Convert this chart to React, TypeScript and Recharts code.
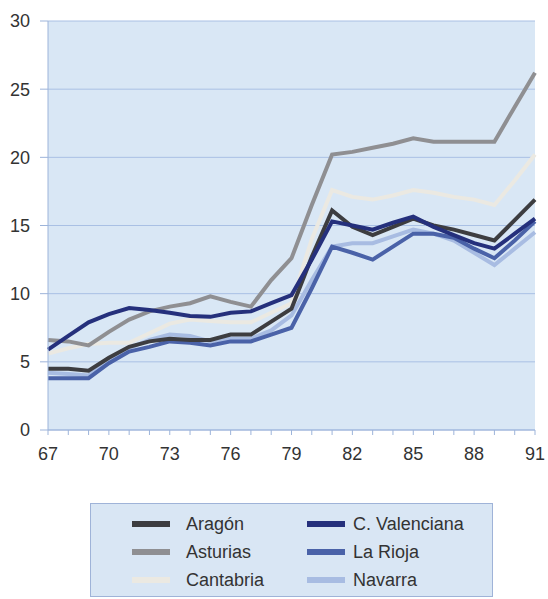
import { LineChart, Line, XAxis, YAxis, CartesianGrid } from 'recharts'

const years = [67, 68, 69, 70, 71, 72, 73, 74, 75, 76, 77, 78, 79, 80, 81, 82, 83, 84, 85, 86, 87, 88, 89, 90, 91]
const xLabels = [67, 70, 73, 76, 79, 82, 85, 88, 91]
const yTicks = [0, 5, 10, 15, 20, 25, 30]

const aragon = [4.5, 4.5, 4.35, 5.3, 6.1, 6.5, 6.7, 6.6, 6.6, 7.0, 7.0, 7.95, 8.9, 12.7, 16.1, 14.9, 14.3, 14.9, 15.5, 15.0, 14.7, 14.3, 13.9, 15.4, 16.9]
const asturias = [6.6, 6.5, 6.2, 7.2, 8.1, 8.7, 9.05, 9.3, 9.8, 9.4, 9.05, 11.0, 12.6, 16.5, 20.2, 20.4, 20.7, 21.0, 21.4, 21.15, 21.15, 21.15, 21.15, 23.7, 26.2]
const cantabria = [5.6, 6.0, 6.3, 6.4, 6.4, 7.1, 7.8, 8.1, 8.0, 7.9, 7.9, 8.6, 9.3, 14.0, 17.6, 17.1, 16.9, 17.2, 17.6, 17.4, 17.1, 16.9, 16.5, 18.3, 20.2]
const valenciana = [5.9, 6.9, 7.9, 8.5, 8.94, 8.8, 8.6, 8.36, 8.3, 8.6, 8.7, 9.3, 9.9, 12.5, 15.3, 15.0, 14.7, 15.2, 15.65, 14.9, 14.3, 13.7, 13.3, 14.4, 15.5]
const rioja = [3.8, 3.8, 3.8, 4.9, 5.75, 6.1, 6.5, 6.4, 6.2, 6.5, 6.5, 7.0, 7.5, 10.4, 13.45, 13.0, 12.5, 13.45, 14.4, 14.4, 14.1, 13.3, 12.6, 13.9, 15.3]
const navarra = [4.2, 4.1, 4.0, 5.1, 6.0, 6.6, 7.0, 6.9, 6.5, 6.7, 6.7, 7.3, 8.4, 11.0, 13.45, 13.7, 13.7, 14.2, 14.7, 14.4, 13.9, 13.0, 12.1, 13.3, 14.5]

const series = [
  { key: 'Aragón', values: aragon, color: '#3d3d40' },
  { key: 'Asturias', values: asturias, color: '#8f8f92' },
  { key: 'Cantabria', values: cantabria, color: '#ebe9e2' },
  { key: 'C. Valenciana', values: valenciana, color: '#25307c' },
  { key: 'La Rioja', values: rioja, color: '#4a62a8' },
  { key: 'Navarra', values: navarra, color: '#a8bce2' },
]

// draw order: light ones first, dark ones on top
const drawOrder = ['Cantabria', 'Asturias', 'Navarra', 'La Rioja', 'Aragón', 'C. Valenciana']

const data = years.map((y, i) => {
  const row: Record<string, number> = { year: y }
  series.forEach((s) => { row[s.key] = s.values[i] })
  return row
})

const FONT = '"Liberation Sans", Arial, sans-serif'
const AXIS = '#9db4da'

function LegendBox() {
  const cols = [series.slice(0, 3), series.slice(3)]
  return (
    <div style={{
      position: 'absolute', left: 90, top: 503, width: 403, height: 94, boxSizing: 'border-box',
      background: '#d9e6f4', border: '1px solid #9fb3d8', fontFamily: FONT, fontSize: 18, color: '#333',
    }}>
      {cols.map((col, ci) => (
        <div key={ci} style={{ position: 'absolute', left: ci === 0 ? 41 : 216, top: 6 }}>
          {col.map((s) => (
            <div key={s.key} style={{ display: 'flex', alignItems: 'center', height: 28 }}>
              <div style={{ width: 38, height: 6, background: s.color, marginRight: ci === 0 ? 16 : 8 }} />
              <span>{s.key}</span>
            </div>
          ))}
        </div>
      ))}
    </div>
  )
}

export default function App() {
  return (
    <div style={{ position: 'absolute', left: 0, top: 0, width: 548, height: 599, background: '#fff' }}>
      <LineChart width={548} height={599} data={data} margin={{ top: 21, right: 13, left: 0, bottom: 129 }}>
        <CartesianGrid vertical={false} fill="#d9e7f5" stroke="#a9c0e4" strokeWidth={1} />
        <XAxis
          dataKey="year"
          type="number"
          domain={[67, 91]}
          ticks={years}
          interval={0}
          tickFormatter={(v: number) => (xLabels.includes(v) ? String(v) : '')}
          stroke={AXIS}
          tickSize={5}
          tickMargin={12}
          tick={{ fontSize: 18, fill: '#333', fontFamily: FONT }}
          height={40}
        />
        <XAxis xAxisId="top" orientation="top" dataKey="year" type="number" domain={[67, 91]} tick={false} tickLine={false} stroke={AXIS} height={0} />
        <YAxis
          domain={[0, 30]}
          ticks={yTicks}
          interval={0}
          stroke={AXIS}
          tickSize={8}
          tickMargin={10}
          width={48}
          tick={{ fontSize: 18, fill: '#333', fontFamily: FONT }}
        />
        <YAxis yAxisId="right" orientation="right" domain={[0, 30]} tick={false} tickLine={false} stroke={AXIS} width={0} />
        {drawOrder.map((k) => {
          const s = series.find((x) => x.key === k)!
          return (
            <Line key={k} dataKey={k} stroke={s.color} strokeWidth={4} dot={false} isAnimationActive={false} type="linear" />
          )
        })}
      </LineChart>
      <LegendBox />
    </div>
  )
}
